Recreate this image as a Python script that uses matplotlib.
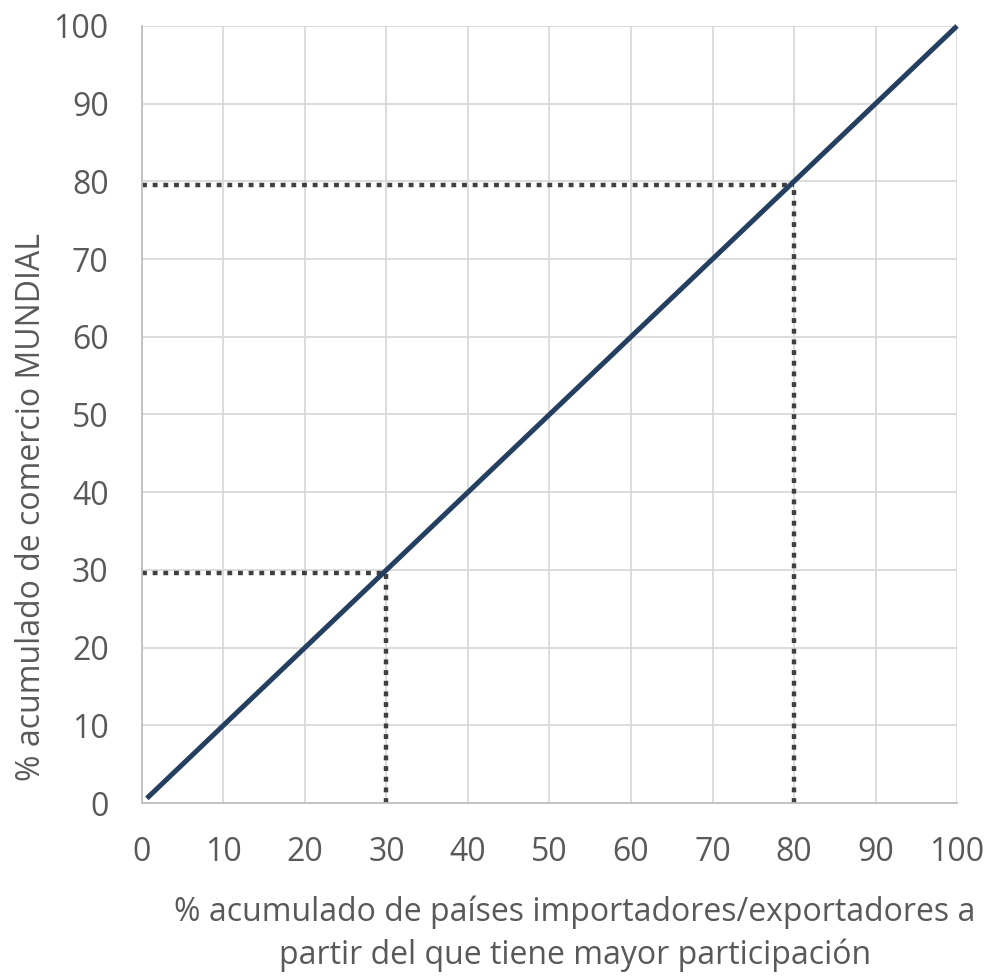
import numpy as np
import matplotlib.pyplot as plt

# Curva acumulada (equidistribución) y puntos de referencia
x_curve = [0.6, 100]
y_curve = [0.6, 100]

ref_x = [30, 80]
ref_y = [29.6, 79.5]

ticks = list(range(0, 101, 10))

plt.rcParams['font.family'] = ['Open Sans', 'DejaVu Sans']

fig = plt.figure(figsize=(9.9, 9.8), dpi=100)
ax = fig.add_axes([0.1434, 0.1806, 0.8233, 0.7929])

text_col = '#595959'
grid_col = '#d9d9d9'

ax.set_xlim(0, 100)
ax.set_ylim(0, 100)
ax.set_xticks(ticks)
ax.set_yticks(ticks)
ax.grid(True, color=grid_col, linewidth=1.3)
ax.set_axisbelow(True)
for side in ['top', 'right']:
    ax.spines[side].set_visible(False)
for side in ['left', 'bottom']:
    ax.spines[side].set_color('#bfbfbf')
    ax.spines[side].set_linewidth(1.3)
ax.tick_params(length=0, labelsize=23, labelcolor=text_col)
ax.tick_params(axis='y', pad=24)
ax.tick_params(axis='x', pad=24)

# líneas punteadas de referencia
for rx, ry in zip(ref_x, ref_y):
    ax.plot([0, rx], [ry, ry], color='#404040', linewidth=3.2,
            linestyle=(0, (1.1, 1.3)), dash_capstyle='butt', clip_on=False)
    ax.plot([rx, rx], [0, ry], color='#404040', linewidth=3.2,
            linestyle=(0, (1.1, 1.3)), dash_capstyle='butt', clip_on=False)

ax.plot(x_curve, y_curve, color='#243f60', linewidth=3.6,
        solid_capstyle='butt', clip_on=False)

ax.set_ylabel('% acumulado de comercio MUNDIAL', fontsize=23,
              color=text_col)
ax.yaxis.set_label_coords(-0.136, 0.381, transform=ax.transAxes)
ax.yaxis.label.set_verticalalignment('center')

ax.set_xlabel('% acumulado de países importadores/exportadores a\n'
              'partir del que tiene mayor participación',
              fontsize=23, color=text_col, linespacing=1.36)
ax.xaxis.set_label_coords(0.531, -0.119, transform=ax.transAxes)
ax.xaxis.label.set_verticalalignment('top')

fig.savefig('out.png', dpi=100)
